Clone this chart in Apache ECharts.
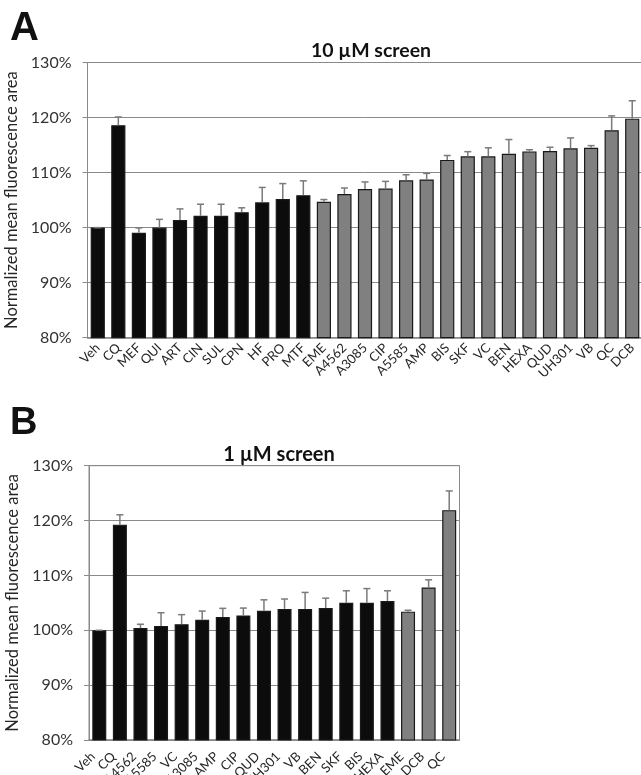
<!DOCTYPE html>
<html>
<head>
<meta charset="utf-8">
<script src="https://cdn.jsdelivr.net/npm/echarts@6/dist/echarts.min.js"></script>
<style>
  html, body { margin: 0; padding: 0; background: #fff; }
  #chart { width: 641px; height: 775px; }
</style>
</head>
<body>
<div id="chart"></div>
<script>
// Panel A: 10 µM screen
const compounds10 = ['Veh', 'CQ', 'MEF', 'QUI', 'ART', 'CIN', 'SUL', 'CPN', 'HF', 'PRO', 'MTF',
  'EME', 'A4562', 'A3085', 'CIP', 'A5585', 'AMP', 'BIS', 'SKF', 'VC', 'BEN', 'HEXA', 'QUD', 'UH301', 'VB', 'QC', 'DCB'];
const mean10 = [100.0, 118.6, 99.05, 100.0, 101.4, 102.15, 102.15, 102.8, 104.6, 105.2, 105.9,
  104.7, 106.1, 107.0, 107.1, 108.6, 108.75, 112.3, 112.95, 112.95, 113.4, 113.85, 113.9, 114.4, 114.5, 117.7, 119.8];
const sem10 = [0.0, 1.5, 0.9, 1.5, 2.0, 2.1, 2.1, 0.8, 2.7, 2.8, 2.6,
  0.4, 1.1, 1.3, 1.3, 1.0, 1.1, 0.8, 0.85, 1.55, 2.6, 0.3, 0.7, 1.9, 0.4, 2.6, 3.25];
const firstHit10 = 'EME';

// Panel B: 1 µM screen
const compounds1 = ['Veh', 'CQ', 'A4562', 'A5585', 'VC', 'A3085', 'AMP', 'CIP', 'QUD', 'UH301',
  'VB', 'BEN', 'SKF', 'BIS', 'HEXA', 'EME', 'DCB', 'QC'];
const mean1 = [100.0, 119.25, 100.4, 100.8, 101.1, 101.9, 102.4, 102.7, 103.55, 103.9,
  103.9, 104.05, 105.0, 105.0, 105.35, 103.4, 107.8, 121.9];
const sem1 = [0.0, 1.8, 0.7, 2.4, 1.75, 1.6, 1.6, 1.35, 2.0, 1.8,
  3.0, 1.8, 2.2, 2.6, 1.85, 0.25, 1.4, 3.5];
const firstHit1 = 'EME';

const yTicks = [80, 90, 100, 110, 120, 130];
const yName = 'Normalized mean fluorescence area';

const BLACK = '#0c0c0c';
const GRAY = '#808080';
const AXIS = '#8a8a8a';
const FONT = 'Lato, "Open Sans", sans-serif';

// compounds from the first "hit" onwards are shaded gray
function barData(names, means, firstHit) {
  const cut = names.indexOf(firstHit);
  return means.map((v, i) => ({
    value: v,
    itemStyle: { color: i >= cut ? GRAY : BLACK }
  }));
}

function errData(means, sems) {
  return means.map((v, i) => [i, v, sems[i]]);
}

// upper whisker with a small cap
function renderErr(params, api) {
  const i = api.value(0), v = api.value(1), e = api.value(2);
  const base = api.coord([i, v]);
  const top = api.coord([i, v + e]);
  const hw = 3.5;
  const style = { stroke: '#7a7a7a', lineWidth: 1.5 };
  return {
    type: 'group',
    children: [
      { type: 'line', shape: { x1: base[0], y1: base[1], x2: top[0], y2: top[1] }, style },
      { type: 'line', shape: { x1: top[0] - hw, y1: top[1], x2: top[0] + hw, y2: top[1] }, style }
    ]
  };
}

function yAxis(gridIndex) {
  return {
    type: 'value', gridIndex,
    min: yTicks[0], max: yTicks[yTicks.length - 1], interval: 10,
    name: yName, nameLocation: 'middle', nameGap: 55,
    nameTextStyle: { fontFamily: FONT, fontSize: 16.5, color: '#262626' },
    axisLine: { show: true, lineStyle: { color: AXIS, width: 1 } },
    axisTick: { show: true, length: 5, lineStyle: { color: AXIS } },
    splitLine: { show: true, lineStyle: { color: AXIS, width: 1 } },
    axisLabel: { formatter: '{value}%', fontFamily: FONT, fontSize: 16, color: '#333', margin: 16 }
  };
}

function xAxis(gridIndex, names, margin, pad) {
  return {
    type: 'category', gridIndex, data: names,
    axisLine: { show: true, lineStyle: { color: AXIS, width: 1.5 } },
    axisTick: { show: false },
    axisLabel: {
      interval: 0, rotate: 45, fontFamily: FONT, fontSize: 13, color: '#262626',
      margin, padding: [0, pad, 0, 0]
    }
  };
}

const chart = echarts.init(document.getElementById('chart'), null, { renderer: 'canvas' });

chart.setOption({
  animation: false,
  backgroundColor: '#fff',
  title: [
    { text: '10 µM screen', left: 366, top: 36, textAlign: 'center',
      textStyle: { fontFamily: FONT, fontWeight: 'bold', fontSize: 19.5, color: '#111' } },
    { text: '1 µM screen', left: 274, top: 440, textAlign: 'center',
      textStyle: { fontFamily: FONT, fontWeight: 'bold', fontSize: 20, color: '#111' } }
  ],
  graphic: [
    { type: 'text', left: 10, top: 9,
      style: { text: 'A', font: 'bold 40px "Liberation Sans", Arial, sans-serif', fill: '#111' } },
    { type: 'text', left: 10, top: 405,
      style: { text: 'B', font: 'bold 38px "Liberation Sans", Arial, sans-serif', fill: '#111' } }
  ],
  grid: [
    { left: 87.5, top: 62.5, width: 555, height: 275.2, show: true,
      containLabel: false, outerBoundsMode: 'none',
      borderColor: AXIS, borderWidth: 1, backgroundColor: 'transparent' },
    { left: 89, top: 465.7, width: 370.5, height: 274.3, show: true,
      containLabel: false, outerBoundsMode: 'none',
      borderColor: AXIS, borderWidth: 1, backgroundColor: 'transparent' }
  ],
  xAxis: [xAxis(0, compounds10, 8, 0), xAxis(1, compounds1, 8, 9)],
  yAxis: [yAxis(0), yAxis(1)],
  series: [
    { type: 'bar', xAxisIndex: 0, yAxisIndex: 0, barCategoryGap: '31%',
      data: barData(compounds10, mean10, firstHit10),
      itemStyle: { borderColor: '#1a1a1a', borderWidth: 1.2 } },
    { type: 'custom', xAxisIndex: 0, yAxisIndex: 0, renderItem: renderErr,
      encode: { x: 0, y: 1 }, data: errData(mean10, sem10), z: 3 },
    { type: 'bar', xAxisIndex: 1, yAxisIndex: 1, barCategoryGap: '32%',
      data: barData(compounds1, mean1, firstHit1),
      itemStyle: { borderColor: '#1a1a1a', borderWidth: 1.2 } },
    { type: 'custom', xAxisIndex: 1, yAxisIndex: 1, renderItem: renderErr,
      encode: { x: 0, y: 1 }, data: errData(mean1, sem1), z: 3 }
  ]
});
</script>
</body>
</html>
